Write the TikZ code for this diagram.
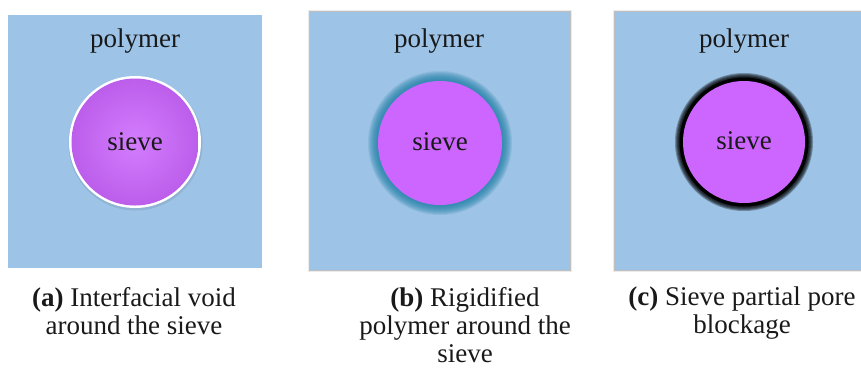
\documentclass[tikz,border=0pt]{standalone}
\usepackage{fontspec}
\setmainfont{Liberation Serif}
\newfontfamily\timesfont{Liberation Serif}
\definecolor{polyblue}{HTML}{9DC3E6}
\definecolor{sievepink}{HTML}{CC66FF}
\definecolor{rigidteal}{HTML}{1F7FA6}
\begin{document}
\begin{tikzpicture}[x=1pt,y=-1pt,
    labeltext/.style={font=\timesfont\fontsize{27}{28}\selectfont, inner sep=0pt, text=black!90},
    captiontext/.style={labeltext, align=center, anchor=north}]
    \useasboundingbox (0,0) rectangle (861,368);
    % Blocos de polimero
    \fill[polyblue] (8,15) rectangle (262,268);
    \draw[black!8, line width=4pt] (310,12) rectangle (570,270);
    \draw[black!25, line width=1.5pt] (310,12) rectangle (570,270);
    \fill[polyblue] (310,12) rectangle (570,270);
    \draw[black!8, line width=4pt] (615,12) rectangle (875,270);
    \draw[black!25, line width=1.5pt] (615,12) rectangle (875,270);
    \fill[polyblue] (615,12) rectangle (875,270);
    % (a) vazio interfacial
    \fill[black, opacity=0.08] (135.5,143.5) circle (67);
    \fill[white] (135,142) circle (66);
    \shade[inner color=sievepink!85!white, outer color=sievepink!92!black] (135,142) circle (63.5);
    % (b) polimero rigidificado
    \foreach \i in {0,...,9}
        \fill[rigidteal, opacity=0.14] (440,143) circle ({72-\i});
    \fill[sievepink] (440,143) circle (62);
    % (c) bloqueio parcial dos poros
    \foreach \i in {0,...,5}
        \fill[black, opacity=0.3] (744,142) circle ({69-\i});
    \fill[black] (744,142) circle (64.5);
    \fill[sievepink] (744,142) circle (61);
    % Textos
    \node[labeltext, anchor=base] (polyA) at (135,47) {polymer};
    \node[labeltext, anchor=base] (polyB) at (439,47) {polymer};
    \node[labeltext, anchor=base] (polyC) at (744,47) {polymer};
    \node[labeltext, anchor=base] (sieveA) at (135,150) {sieve};
    \node[labeltext, anchor=base] (sieveB) at (440,150) {sieve};
    \node[labeltext, anchor=base] (sieveC) at (744,149) {sieve};
    \node[captiontext] (capA) at (134,287) {\textbf{(a)} Interfacial void\\around the sieve};
    \node[captiontext] (capB) at (465,287) {\textbf{(b)} Rigidified\\polymer around the\\sieve};
    \node[captiontext] (capC) at (742,287) {\textbf{(c)} Sieve partial pore\\blockage};
\end{tikzpicture}
\end{document}
